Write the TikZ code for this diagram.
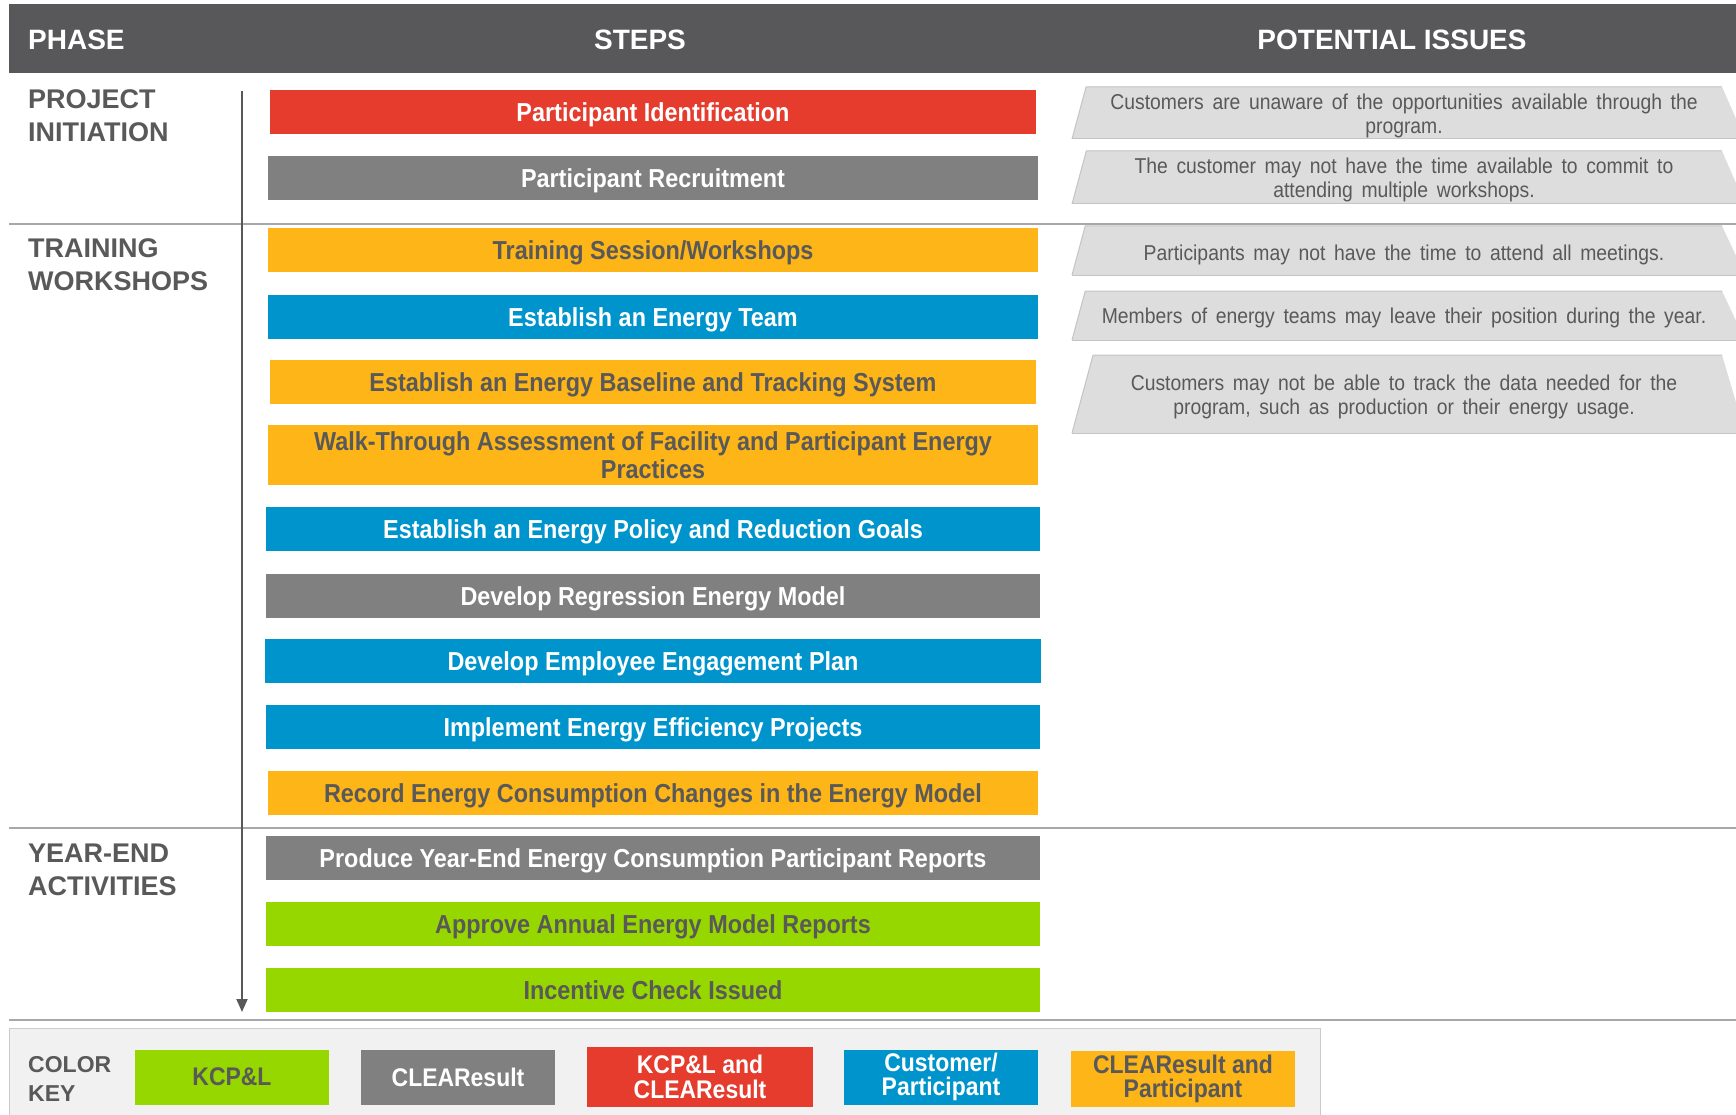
\documentclass[tikz,border=0pt]{standalone}
\usepackage{fontspec}
\setmainfont{Liberation Sans}
\newfontfamily\narrowfont[FakeStretch=0.9]{Liberation Sans}
\usetikzlibrary{arrows.meta}
\definecolor{hdr}{HTML}{58585A}
\definecolor{txt}{HTML}{595959}
\definecolor{cred}{HTML}{E53C2E}
\definecolor{cgray}{HTML}{808080}
\definecolor{corange}{HTML}{FDB517}
\definecolor{cblue}{HTML}{0094CC}
\definecolor{cgreen}{HTML}{97D700}
\definecolor{issuefill}{HTML}{DDDDDD}
\definecolor{issueline}{HTML}{C4C4C4}
\definecolor{keybg}{HTML}{F1F1F1}
\definecolor{divline}{HTML}{A8A8A8}
\newcommand{\nohyph}{\hyphenpenalty=10000\exhyphenpenalty=10000\relax}
\newcommand{\widesp}{\spaceskip=8.6pt plus 2pt minus 1pt\relax}
\tikzset{
  stepbox/.style={minimum width=770pt, minimum height=44pt, inner sep=0pt, align=center,
    text height=19pt, text depth=0pt,
    font=\narrowfont\bfseries\fontsize{26}{28}\selectfont},
  lighttext/.style={text=white},
  darktext/.style={text=txt},
  phaselabel/.style={anchor=north west, align=left, inner sep=0pt, text=txt,
    font=\bfseries\fontsize{27}{33}\selectfont},
  headtext/.style={text=white, inner sep=0pt, font=\bfseries\fontsize{28}{32}\selectfont},
  issuetext/.style={text=txt, align=center, inner sep=0pt,
    font=\narrowfont\nohyph\fontsize{21.5}{24.5}\selectfont\widesp},
  keybox/.style={minimum width=194pt, minimum height=55pt, inner sep=0pt, align=center,
    font=\narrowfont\bfseries\fontsize{25.5}{24.5}\selectfont},
  divider/.style={draw=divline, line width=2pt},
}
\newcommand{\issueshape}[2]{% top, bottom
  \pgfmathsetmacro{\inset}{0.27*(#2-#1)}
  \fill[issuefill] (1072,#2) -- (1072+\inset,#1) -- (1722,#1) -- (1745,#2) -- cycle;
  \draw[issueline, line width=1pt] (1072,#2) -- (1072+\inset,#1) -- (1722,#1);
  \draw[issueline, line width=1pt] (1072,#2) -- (1745,#2);
}
\begin{document}
\begin{tikzpicture}[x=1pt,y=-1pt]
\useasboundingbox (0,0) rectangle (1736,1115);
\fill[white] (0,0) rectangle (1736,1115);
% header
\fill[hdr] (9,4) rectangle (1736,73);
\node[headtext, anchor=west] (hphase) at (28,40) {PHASE};
\node[headtext] (hsteps) at (640,40) {STEPS};
\node[headtext] (hissues) at (1392,40) {POTENTIAL ISSUES};
% dividers
\draw[divider] (9,224) -- (1736,224);
\draw[divider] (9,828) -- (1736,828);
\draw[divider] (9,1020) -- (1736,1020);
% phase labels
\node[phaselabel] (p1) at (28,89) {PROJECT\\INITIATION};
\node[phaselabel] (p2) at (28,238) {TRAINING\\WORKSHOPS};
\node[phaselabel] (p3) at (28,844) {YEAR-END\\ACTIVITIES};
% arrow
\coordinate (atop) at (242,91);
\coordinate (abot) at (242,1012);
\draw[line width=1.8pt, draw=hdr, -{Triangle[length=13pt,width=11pt]}] (atop) -- (abot);
% steps
\node[stepbox, fill=cred, lighttext, minimum width=766pt] (s1) at (653,112) {Participant Identification};
\node[stepbox, fill=cgray, lighttext] (s2) at (653,178) {Participant Recruitment};
\node[stepbox, fill=corange, darktext] (s3) at (653,250) {Training Session/Workshops};
\node[stepbox, fill=cblue, lighttext] (s4) at (653,317) {Establish an Energy Team};
\node[stepbox, fill=corange, darktext, minimum width=766pt] (s5) at (653,382) {Establish an Energy Baseline and Tracking System};
\node[stepbox, fill=corange, darktext, minimum height=60pt, text height=47pt] (s6) at (653,455) {Walk-Through Assessment of Facility and Participant Energy\\Practices};
\node[stepbox, fill=cblue, lighttext, minimum width=774pt] (s7) at (653,529) {Establish an Energy Policy and Reduction Goals};
\node[stepbox, fill=cgray, lighttext, minimum width=774pt] (s8) at (653,596) {Develop Regression Energy Model};
\node[stepbox, fill=cblue, lighttext, minimum width=776pt] (s9) at (653,661) {Develop Employee Engagement Plan};
\node[stepbox, fill=cblue, lighttext, minimum width=774pt] (s10) at (653,727) {Implement Energy Efficiency Projects};
\node[stepbox, fill=corange, darktext] (s11) at (653,793) {Record Energy Consumption Changes in the Energy Model};
\node[stepbox, fill=cgray, lighttext, minimum width=774pt] (s12) at (653,858) {Produce Year-End Energy Consumption Participant Reports};
\node[stepbox, fill=cgreen, darktext, minimum width=774pt] (s13) at (653,924) {Approve Annual Energy Model Reports};
\node[stepbox, fill=cgreen, darktext, minimum width=774pt] (s14) at (653,990) {Incentive Check Issued};
% issues
\issueshape{87}{139}
\node[issuetext] (i1) at (1404,116) {Customers are unaware of the opportunities available through the\\program.};
\issueshape{151}{204}
\node[issuetext] (i2) at (1404,180) {The customer may not have the time available to commit to\\attending multiple workshops.};
\issueshape{226}{275}
\node[issuetext] (i3) at (1404,255) {Participants may not have the time to attend all meetings.};
\issueshape{291}{340}
\node[issuetext] (i4) at (1404,318) {Members of energy teams may leave their position during the year.};
\issueshape{355}{433}
\node[issuetext] (i5) at (1404,397) {Customers may not be able to track the data needed for the\\program, such as production or their energy usage.};
% color key
\filldraw[fill=keybg, draw=divline!60, line width=1pt] (9,1028) rectangle (1320,1120);
\node[phaselabel, font=\bfseries\fontsize{23}{29}\selectfont] (ck) at (28,1056) {COLOR\\KEY};
\node[keybox, fill=cgreen, darktext] (k1) at (232,1077) {KCP\&L};
\node[keybox, fill=cgray, lighttext] (k2) at (458,1077) {CLEAResult};
\node[keybox, fill=cred, lighttext, minimum width=226pt, minimum height=60pt] (k3) at (700,1077) {KCP\&L and\\CLEAResult};
\node[keybox, fill=cblue, lighttext] (k4) at (941,1077) {Customer/\\Participant};
\node[keybox, fill=corange, darktext, minimum width=224pt, minimum height=56pt] (k5) at (1183,1079) {CLEAResult and\\Participant};
\end{tikzpicture}
\end{document}
